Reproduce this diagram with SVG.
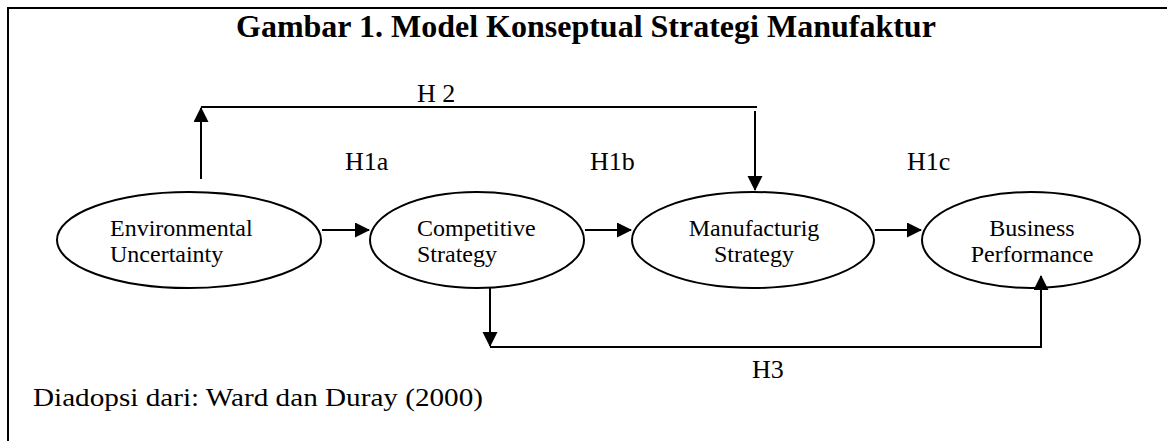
<svg xmlns="http://www.w3.org/2000/svg" width="1167" height="441" viewBox="0 0 1167 441">
<style>
text{font-family:"Liberation Serif","Times New Roman",serif;fill:#000}
.t{font-size:32px;font-weight:bold}
.n{font-size:24px}
.h{font-size:26px}
.c{font-size:26px}
.e{fill:#fff;stroke:#000;stroke-width:2}
.l{fill:none;stroke:#000;stroke-width:2}
</style>
<defs>
<marker id="a" markerWidth="16" markerHeight="16" refX="14" refY="7.5" orient="auto" markerUnits="userSpaceOnUse">
<path d="M0,0 L15,7.5 L0,15 Z" fill="#000"/>
</marker>
</defs>
<rect width="1167" height="441" fill="#fff"/>
<path class="l" d="M8,441 V8 H1167"/>
<text class="t" x="236" y="37">Gambar 1. Model Konseptual Strategi Manufaktur</text>
<g id="env">
<ellipse class="e" cx="189" cy="240" rx="132" ry="48"/>
<text class="n" x="110" y="236">Environmental</text>
<text class="n" x="110" y="262">Uncertainty</text>
</g>
<g id="comp">
<ellipse class="e" cx="477" cy="240" rx="107" ry="48"/>
<text class="n" x="417" y="236">Competitive</text>
<text class="n" x="417" y="262">Strategy</text>
</g>
<g id="manu">
<ellipse class="e" cx="753" cy="240" rx="121" ry="48"/>
<text class="n" x="754" y="236" text-anchor="middle">Manufacturig</text>
<text class="n" x="754" y="262" text-anchor="middle">Strategy</text>
</g>
<g id="bus">
<ellipse class="e" cx="1031" cy="240" rx="109" ry="48"/>
<text class="n" x="1032" y="236" text-anchor="middle">Business</text>
<text class="n" x="1032" y="262" text-anchor="middle">Performance</text>
</g>
<g id="connectors">
<path class="l" d="M201,179 V108" marker-end="url(#a)"/>
<path class="l" d="M201,107 H757"/>
<path class="l" d="M755,111 V190" marker-end="url(#a)"/>
<path class="l" d="M322,230 H369" marker-end="url(#a)"/>
<path class="l" d="M585,230 H631" marker-end="url(#a)"/>
<path class="l" d="M875,230 H921" marker-end="url(#a)"/>
<path class="l" d="M490,287 V346" marker-end="url(#a)"/>
<path class="l" d="M490,347 H1041 V276" marker-end="url(#a)"/>
<text class="h" x="417" y="102">H 2</text>
<text class="h" x="345" y="170">H1a</text>
<text class="h" x="590" y="170">H1b</text>
<text class="h" x="907" y="170">H1c</text>
<text class="h" x="752" y="378">H3</text>
</g>
<text class="c" x="33" y="406" textLength="450" lengthAdjust="spacingAndGlyphs">Diadopsi dari: Ward dan Duray (2000)</text>
</svg>
